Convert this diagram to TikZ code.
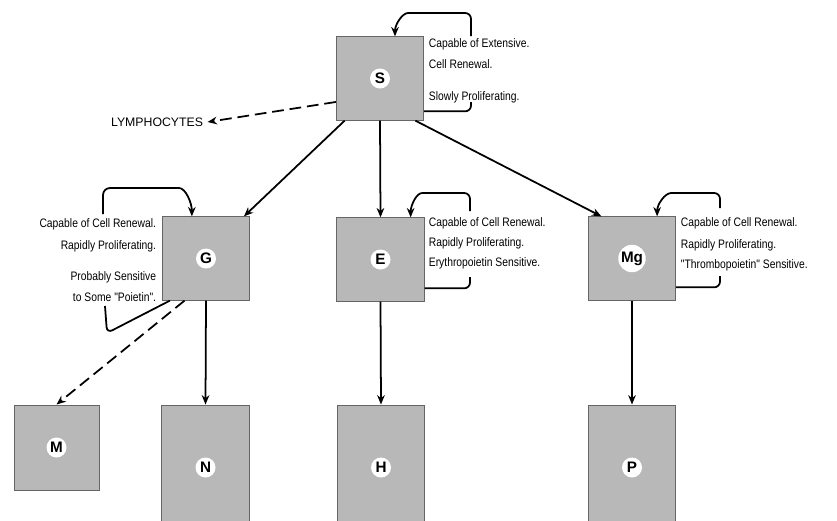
\documentclass[tikz,border=0pt]{standalone}
\usepackage{fontspec}
\setmainfont{Liberation Sans}
\newfontfamily\narrowfont[FakeStretch=0.84]{Liberation Sans}
\usetikzlibrary{arrows.meta,calc}

\begin{document}
\begin{tikzpicture}[x=0.03cm,y=-0.03cm,line width=1.5pt,
      >={Stealth[length=8pt,width=6.5pt]},
      cell/.style={draw=black!60,line width=0.8pt,fill=black!28,inner sep=0pt,
        minimum width=2.62cm,minimum height=2.5cm},
      tall/.style={cell,minimum height=3.75cm},
      tag/.style={circle,fill=white,inner sep=0.5pt,minimum size=0.6cm,
        font=\fontsize{13}{14}\selectfont\bfseries},
      note/.style={font=\narrowfont\fontsize{10.5}{12}\selectfont,inner sep=0pt},
      dashline/.style={dash pattern=on 10pt off 5pt}]
    \useasboundingbox (0,0) rectangle (837,520);
    % stem cell and its three lines
    \node[cell] (S) at (380,78.5) {};
    \node[cell] (G) at (206,258.5) {};
    \node[cell] (E) at (380.5,259.5) {};
    \node[cell] (Mg) at (632,258.5) {};
    \node[cell,minimum width=2.55cm,minimum height=2.55cm] (M) at (56.5,447.5) {};
    \node[tall] (N) at (205.5,467.5) {};
    \node[tall] (H) at (381,467.5) {};
    \node[tall] (P) at (632,467.5) {};
    \foreach \c/\t in {S/S,G/G,E/E,Mg/Mg,M/M,N/N,H/H,P/P}
      \node[tag] (t\c) at (\c) {\t};
    % notes
    \node[note,anchor=west] (s1) at (428,44) {Capable of Extensive.};
    \node[note,anchor=west] (s2) at (428,64) {Cell Renewal.};
    \node[note,anchor=west] (s3) at (428,97) {Slowly Proliferating.};
    \node[note,anchor=east] (g1) at (157,224) {Capable of Cell Renewal.};
    \node[note,anchor=east] (g2) at (157,246) {Rapidly Proliferating.};
    \node[note,anchor=east] (g3) at (157,277) {Probably Sensitive};
    \node[note,anchor=east] (g4) at (157,297) {to Some "Poietin".};
    \node[note,anchor=west] (e1) at (428,223) {Capable of Cell Renewal.};
    \node[note,anchor=west] (e2) at (428,243) {Rapidly Proliferating.};
    \node[note,anchor=west] (e3) at (428,263) {Erythropoietin Sensitive.};
    \node[note,anchor=west] (m1) at (680,223) {Capable of Cell Renewal.};
    \node[note,anchor=west] (m2) at (680,245) {Rapidly Proliferating.};
    \node[note,anchor=west] (m3) at (680,265) {"Thrombopoietin" Sensitive.};
    \node[font=\fontsize{10.5}{12}\selectfont,inner sep=0pt,anchor=east] (ly) at (204,122) {LYMPHOCYTES};
    % lineage arrows
    \draw[->,dashline] (S.-152) -- ([xshift=3pt]ly.east);
    \draw[->] (S.-130) -- (G.48);
    \draw[->] (S.south) -- (E.north);
    \draw[->] (S.-50) -- (Mg.126);
    \draw[->,dashline] (G.-117) -- (M.north);
    \draw[->] (G.south) -- (N.north);
    \draw[->] (E.south) -- (H.north);
    \draw[->] (Mg.south) -- (P.north);
    % renewal loops
    \draw[rounded corners=5pt] ($(S.north east)+(0,75)$) -| (471,102);
    \draw[->,rounded corners=5pt] (471,36) |- (414,13) to[out=180,in=90] ($(S.north)+(15,0)$);
    \draw[->,rounded corners=6pt] (103,214) |- (172,188) to[out=0,in=90] ($(G.north west)+(30,0)$);
    \draw[rounded corners=5pt] ($(G.south west)+(8,0)$) -- (107,333) -- (105,306);
    \draw[->,rounded corners=5pt] (470,211) |- (428,193) to[out=180,in=90] ($(E.north east)+(-14,0)$);
    \draw[rounded corners=5pt] ($(E.north east)+(0,71)$) -| (470,277);
    \draw[->,rounded corners=5pt] (720,208) |- (677,193) to[out=180,in=90] ($(Mg.north east)+(-19,0)$);
    \draw[rounded corners=5pt] ($(Mg.north east)+(0,71)$) -| (720,276);
\end{tikzpicture}
\end{document}
